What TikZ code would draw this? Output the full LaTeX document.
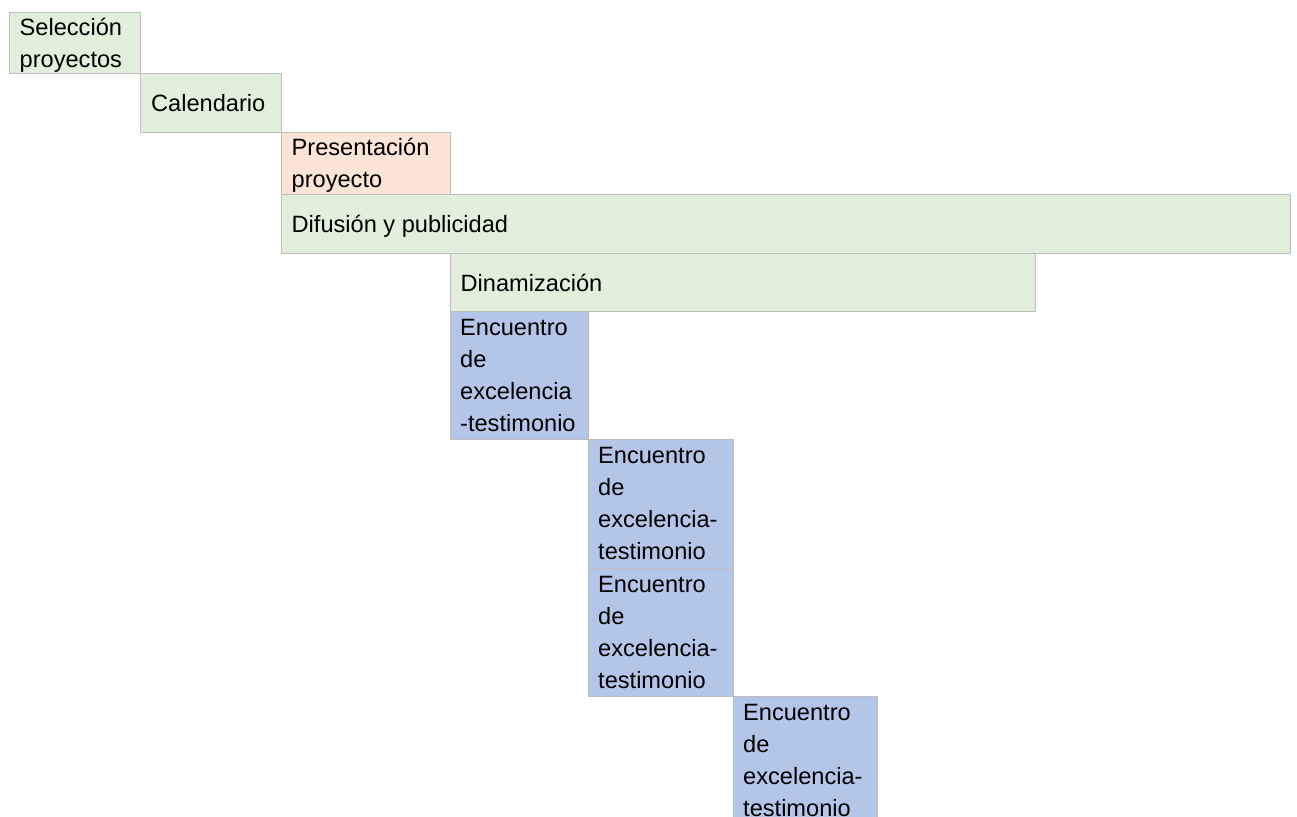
\documentclass[tikz,border=0pt]{standalone}
\usepackage{fontspec}
\setmainfont{Liberation Sans}
\definecolor{gfill}{RGB}{226,239,218}
\definecolor{pfill}{RGB}{252,228,214}
\definecolor{bfill}{RGB}{180,198,231}
\definecolor{bline}{RGB}{190,190,190}
\tikzset{
  box/.style={draw=bline, line width=1.4pt, rectangle, inner sep=0pt, anchor=north west},
  gbox/.style={box, fill=gfill},
  pbox/.style={box, fill=pfill},
  bbox/.style={box, fill=bfill},
  txt/.style={inner sep=0pt, anchor=base west, font=\fontsize{23.6}{32}\selectfont, text=black},
}
\newcommand{\ml}[2]{\parbox[t]{#1pt}{\raggedright #2}}
\begin{document}
\begin{tikzpicture}[x=1pt,y=-1pt]
\useasboundingbox (0,0) rectangle (1297,816);
\clip (0,0) rectangle (1297,816);
% boxes
\node[gbox, minimum width=131pt, minimum height=61pt] (b1) at (9,12) {};
\node[gbox, minimum width=141pt, minimum height=59pt] (b2) at (140,73) {};
\node[pbox, minimum width=169pt, minimum height=62pt] (b3) at (281,132) {};
\node[gbox, minimum width=1009pt, minimum height=59pt] (b4) at (281,194) {};
\node[gbox, minimum width=585pt, minimum height=58pt] (b5) at (450,253) {};
\node[bbox, minimum width=138pt, minimum height=128pt] (b6) at (450,311) {};
\node[bbox, minimum width=145pt, minimum height=129pt] (b7) at (588,439) {};
\node[bbox, minimum width=145pt, minimum height=128pt] (b8) at (588,568) {};
\node[bbox, minimum width=144pt, minimum height=130pt] (b9) at (733,696) {};
% texts
\node[txt] (t1) at ([shift={(10.5,23.5)}]b1.north west) {\ml{125}{Selección\\proyectos}};
\node[txt] (t2) at ([shift={(11,0)}]b2.west) [yshift=-8.5pt] {Calendario};
\node[txt] (t3) at ([shift={(10.5,23.5)}]b3.north west) {\ml{160}{Presentación\\proyecto}};
\node[txt] (t4) at ([shift={(10.5,0)}]b4.west) [yshift=-8.5pt] {Difusión y publicidad};
\node[txt] (t5) at ([shift={(10.5,0)}]b5.west) [yshift=-8.5pt] {Dinamización};
\node[txt] (t6) at ([shift={(10,24)}]b6.north west) {\ml{140}{Encuentro\\de\\excelencia\\-testimonio}};
\node[txt] (t7) at ([shift={(10,24)}]b7.north west) {\ml{140}{Encuentro\\de\\excelencia-\\testimonio}};
\node[txt] (t8) at ([shift={(10,24)}]b8.north west) {\ml{140}{Encuentro\\de\\excelencia-\\testimonio}};
\node[txt] (t9) at ([shift={(10,24)}]b9.north west) {\ml{140}{Encuentro\\de\\excelencia-\\testimonio}};
\end{tikzpicture}
\end{document}
